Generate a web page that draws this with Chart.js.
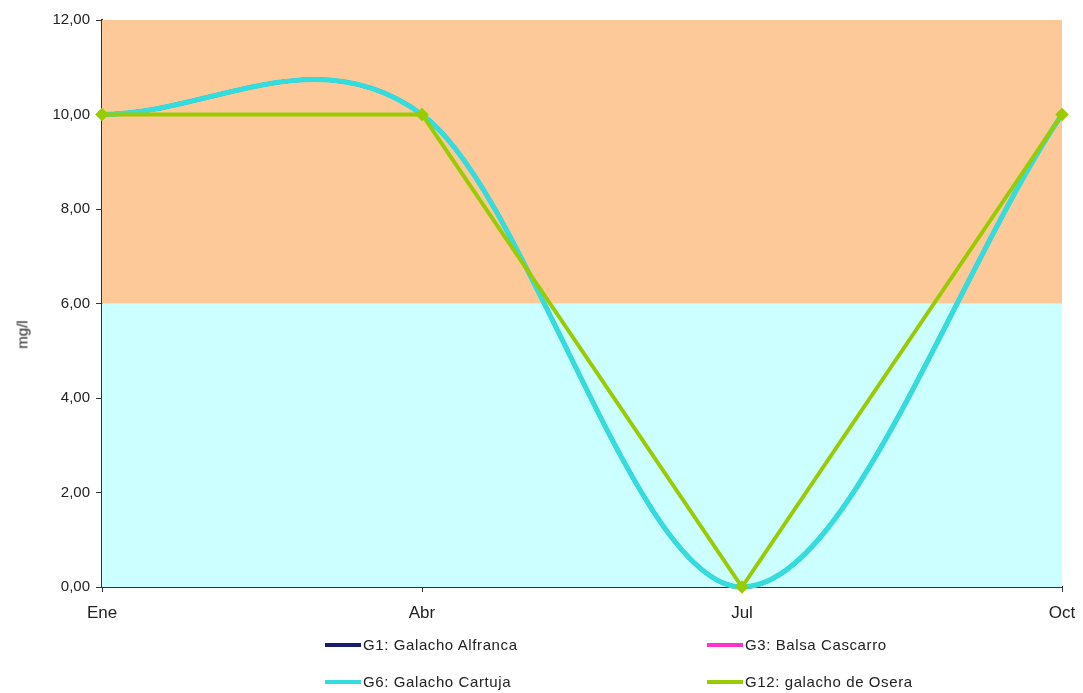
<!DOCTYPE html>
<html>
<head>
<meta charset="utf-8">
<script src="https://cdn.jsdelivr.net/npm/chart.js@4"></script>
<style>
  body { margin: 0; background: #fff; font-family: "Liberation Sans", Arial, sans-serif; }
  #wrap { position: relative; width: 1083px; height: 693px; }
  .leg { position: absolute; font-size: 15px; color: #222; display: flex; align-items: center; letter-spacing: 0.6px; }
  .leg span.ln { display: inline-block; width: 36px; height: 4px; margin-right: 2px; }
  #ytit { position: absolute; left: 2px; top: 326px; width: 40px; text-align: center; font-size: 15px; color: #222;
          transform: rotate(-90deg); transform-origin: center; }
</style>
</head>
<body>
<div id="wrap">
  <canvas id="chart" width="1083" height="693"></canvas>
  <div id="ytit">mg/l</div>
  <div class="leg" style="left:325px; top:636px;"><span class="ln" style="background:#1a1a6e"></span>G1: Galacho Alfranca</div>
  <div class="leg" style="left:707px; top:636px;"><span class="ln" style="background:#ff33cc"></span>G3: Balsa Cascarro</div>
  <div class="leg" style="left:325px; top:673px;"><span class="ln" style="background:#33dddd"></span>G6: Galacho Cartuja</div>
  <div class="leg" style="left:707px; top:673px;"><span class="ln" style="background:#99cc00"></span>G12: galacho de Osera</div>
</div>
<script>
// datos
const meses = ["Ene", "Abr", "Jul", "Oct"];
const g1 = [10, 10, 0, 10];
const g3 = [10, 10, 0, 10];
const g6 = [10, 10, 0, 10];
const g12 = [10, 10, 0, 10];

// bandas de fondo: [desde, hasta, color]
const bandas = [
  [0, 6, "#ccffff"],
  [6, 12, "#fdc999"]
];

const fondo = {
  id: "fondo",
  beforeDatasetsDraw(chart) {
    const { ctx, chartArea, scales } = chart;
    ctx.save();
    bandas.forEach(b => {
      const y1 = scales.y.getPixelForValue(b[1]);
      const y0 = scales.y.getPixelForValue(b[0]);
      ctx.fillStyle = b[2];
      ctx.fillRect(chartArea.left, y1, chartArea.right - chartArea.left, y0 - y1);
    });
    ctx.restore();
  }
};

// suavizado tipo Excel (Catmull-Rom) sobre los puntos que coloca Chart.js
const suavizado = {
  id: "suavizado",
  beforeDatasetDraw(chart, args) {
    const ds = chart.data.datasets[args.index];
    if (!ds.excelSmooth) return;
    const line = args.meta.dataset;
    line.updateControlPoints(chart.chartArea, args.meta.indexAxis);
    const p = line.points;
    const n = p.length;
    for (let i = 0; i < n; i++) {
      let dx, dy;
      if (i === 0) { dx = (p[1].x - p[0].x) * 2 / 3; dy = (p[1].y - p[0].y) * 2 / 3; }
      else if (i === n - 1) { dx = (p[i].x - p[i - 1].x) * 2 / 3; dy = (p[i].y - p[i - 1].y) * 2 / 3; }
      else { dx = (p[i + 1].x - p[i - 1].x) / 3; dy = (p[i + 1].y - p[i - 1].y) / 3; }
      p[i].cp1x = p[i].x - dx / 2; p[i].cp1y = p[i].y - dy / 2;
      p[i].cp2x = p[i].x + dx / 2; p[i].cp2y = p[i].y + dy / 2;
    }
    line._path = undefined;
  }
};

new Chart(document.getElementById("chart"), {
  type: "line",
  data: {
    labels: meses,
    datasets: [
      { label: "G1: Galacho Alfranca", data: g1, borderColor: "#1a1a6e", borderWidth: 4, tension: 0.3, excelSmooth: true, pointRadius: 0, order: 3 },
      { label: "G3: Balsa Cascarro", data: g3, borderColor: "#ff33cc", borderWidth: 4, tension: 0.3, excelSmooth: true, pointRadius: 0, order: 2 },
      { label: "G6: Galacho Cartuja", data: g6, borderColor: "#33dddd", borderWidth: 5, tension: 0.3, excelSmooth: true, pointRadius: 0, order: 1 },
      { label: "G12: galacho de Osera", data: g12, borderColor: "#99cc00", backgroundColor: "#99cc00", borderWidth: 4, tension: 0,
        pointStyle: "rectRot", pointRadius: 4, order: 0 }
    ]
  },
  options: {
    responsive: false,
    animation: false,
    clip: false,
    layout: { padding: { top: 20, right: 21, left: 0, bottom: 0 } },
    plugins: { legend: { display: false }, tooltip: { enabled: false } },
    scales: {
      x: {
        offset: false,
        grid: { drawOnChartArea: false, drawTicks: true, tickLength: 5, color: "#333" },
        border: { color: "#333", width: 2 },
        ticks: { color: "#222", font: { family: "Liberation Sans", size: 17 }, maxRotation: 0, padding: 11 },
        afterFit(s) { s.height = 106; s.paddingRight = 0; s.paddingLeft = 0; }
      },
      y: {
        min: 0, max: 12,
        grid: { drawOnChartArea: false, drawTicks: true, tickLength: 6, color: "#333" },
        border: { color: "#333", width: 2 },
        ticks: { stepSize: 2, color: "#222", font: { family: "Liberation Sans", size: 15 }, padding: 6,
          callback: v => v.toFixed(2).replace(".", ",") },
        afterFit(s) { s.width = 102; }
      }
    }
  },
  plugins: [fondo, suavizado]
});
</script>
</body>
</html>
